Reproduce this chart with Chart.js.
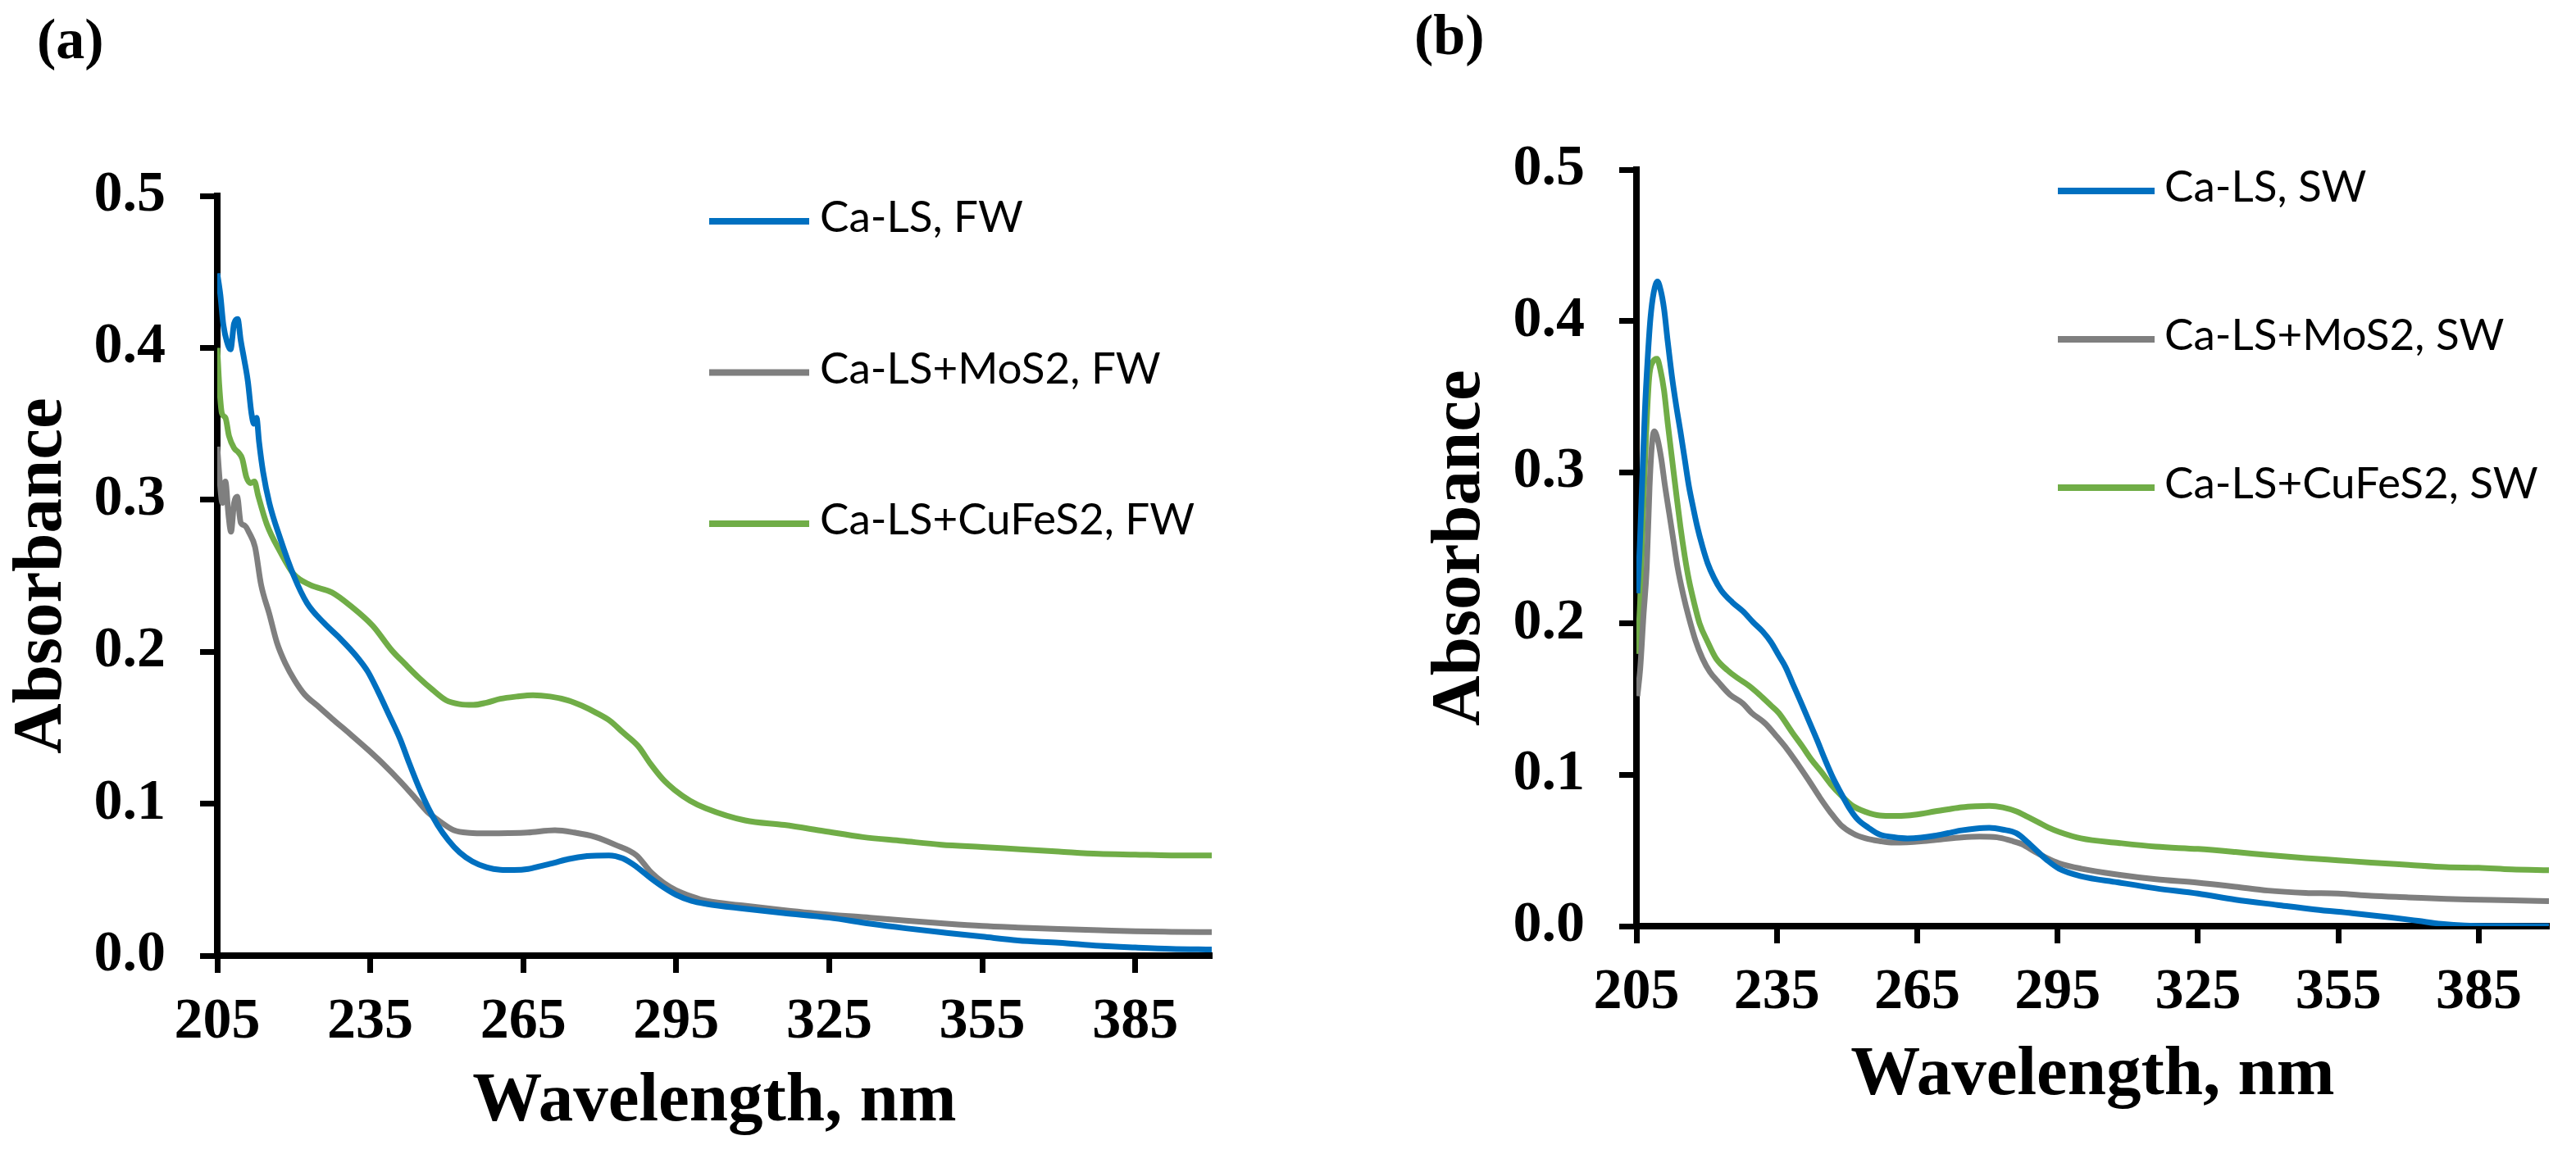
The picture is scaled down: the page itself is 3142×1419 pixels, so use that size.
<!DOCTYPE html>
<html>
<head>
<meta charset="utf-8">
<title>UV-Vis absorbance, FW / SW</title>
<script src="https://cdn.jsdelivr.net/npm/chart.js@4.4.1/dist/chart.umd.min.js"></script>
<style>
  html, body { margin: 0; padding: 0; background: #fff; }
  body { width: 3142px; height: 1419px; position: relative; overflow: hidden; }
  canvas { position: absolute; top: 0; }
  #chartFW { left: 0; }
  #chartSW { left: 1571px; }
  .panel-tag { position: absolute; font: bold 70px "Liberation Serif", "Times New Roman", serif; line-height: 1; color: #000; }
</style>
</head>
<body>
<canvas id="chartFW" width="1571" height="1419"></canvas>
<canvas id="chartSW" width="1571" height="1419"></canvas>
<div class="panel-tag" style="left:45px;top:13px">(a)</div>
<div class="panel-tag" style="left:1725px;top:8px">(b)</div>
<script>
// Axis ticks shared by both panels
var xTicks = [205, 235, 265, 295, 325, 355, 385];
var yTicks = [0, 0.1, 0.2, 0.3, 0.4, 0.5];

// Panel (a) - FW
var fwLabels = ["Ca-LS, FW", "Ca-LS+MoS2, FW", "Ca-LS+CuFeS2, FW"];

var fwLsNm = [205, 205.6, 206.2, 206.9, 207.6, 208.3, 209.0, 209.6, 210.3, 211.0, 211.7, 212.2, 212.7, 213.2, 214.0, 215.2, 217.3, 220.0, 222.6, 225.9, 229.0, 232.3, 234.5, 236.5, 238.6, 240.8, 242.6, 244.5, 246.4, 248.2, 250.3, 252.5, 255.0, 257.9, 260.5, 263.2, 266.0, 268.5, 271.0, 273.8, 277.5, 281.8, 284.5, 287.2, 290.0, 292.5, 295.0, 298.0, 301.0, 308.0, 316.0, 325.0, 333.0, 340.0, 348.0, 355.0, 362.0, 370.0, 378.0, 385.0, 392.0, 400.0];
var fwLsAbs = [0.449, 0.435, 0.415, 0.404, 0.399, 0.416, 0.419, 0.405, 0.392, 0.378, 0.357, 0.350, 0.354, 0.338, 0.318, 0.298, 0.275, 0.250, 0.232, 0.219, 0.209, 0.197, 0.187, 0.174, 0.159, 0.143, 0.127, 0.111, 0.097, 0.086, 0.076, 0.068, 0.062, 0.058, 0.0565, 0.0563, 0.057, 0.059, 0.061, 0.0635, 0.0655, 0.066, 0.064, 0.0585, 0.051, 0.045, 0.040, 0.036, 0.034, 0.031, 0.028, 0.025, 0.021, 0.018, 0.015, 0.0125, 0.010, 0.0085, 0.0065, 0.0054, 0.0045, 0.004];

var fwMoNm = [205, 205.5, 206.0, 206.6, 207.2, 207.7, 208.3, 208.9, 209.6, 210.4, 211.3, 212.4, 213.6, 215.2, 216.7, 218.4, 220.2, 222.1, 224.8, 227.5, 231.0, 234.4, 237.6, 240.8, 243.5, 246.1, 248.8, 251.4, 254.5, 257.9, 262.0, 265.9, 271.2, 275.0, 279.2, 283.0, 287.2, 290.0, 292.5, 295.0, 298.0, 301.0, 308.0, 316.0, 325.0, 333.0, 340.0, 348.0, 355.0, 362.0, 370.0, 378.0, 385.0, 392.0, 400.0];
var fwMoAbs = [0.335, 0.312, 0.298, 0.312, 0.290, 0.279, 0.298, 0.302, 0.285, 0.283, 0.278, 0.269, 0.244, 0.225, 0.206, 0.192, 0.181, 0.172, 0.164, 0.156, 0.146, 0.136, 0.126, 0.115, 0.105, 0.095, 0.088, 0.0825, 0.0808, 0.0805, 0.0806, 0.081, 0.0825, 0.081, 0.078, 0.073, 0.066, 0.055, 0.048, 0.043, 0.039, 0.036, 0.033, 0.030, 0.027, 0.025, 0.023, 0.021, 0.0195, 0.0185, 0.0175, 0.0167, 0.016, 0.0157, 0.0155];

var fwCuNm = [205, 205.4, 205.9, 206.6, 207.3, 208.3, 209.2, 209.9, 210.7, 211.5, 212.3, 213.0, 214.7, 217.3, 220.0, 223.2, 227.5, 231.2, 235.5, 239.2, 241.8, 244.5, 247.2, 249.9, 252.5, 255.2, 257.8, 260.5, 263.7, 266.9, 270.3, 273.8, 276.5, 279.2, 282.0, 284.5, 287.5, 290.0, 292.4, 294.7, 297.7, 300.8, 308.5, 316.2, 323.9, 331.6, 339.3, 347.0, 355.0, 362.4, 370.0, 377.8, 385.0, 392.0, 400.0];
var fwCuAbs = [0.400, 0.375, 0.357, 0.354, 0.342, 0.334, 0.331, 0.327, 0.315, 0.311, 0.312, 0.303, 0.284, 0.266, 0.251, 0.244, 0.239, 0.230, 0.217, 0.201, 0.192, 0.183, 0.175, 0.168, 0.1655, 0.165, 0.1665, 0.169, 0.1705, 0.1714, 0.1705, 0.168, 0.1645, 0.160, 0.1545, 0.147, 0.138, 0.126, 0.116, 0.109, 0.102, 0.097, 0.089, 0.086, 0.082, 0.078, 0.0755, 0.073, 0.0715, 0.070, 0.0685, 0.067, 0.0665, 0.066, 0.066];

// Panel (b) - SW
var swLabels = ["Ca-LS, SW", "Ca-LS+MoS2, SW", "Ca-LS+CuFeS2, SW"];

var swLsNm = [205.2, 205.7, 206.3, 206.8, 207.4, 208.0, 208.7, 209.5, 210.2, 210.9, 211.7, 212.6, 213.5, 214.4, 215.3, 216.2, 217.1, 218.0, 219.1, 220.2, 221.6, 223.1, 225.5, 227.8, 229.9, 231.9, 233.7, 235.4, 236.9, 238.3, 240.0, 241.8, 243.6, 245.3, 247.0, 248.7, 250.5, 252.3, 254.6, 257.0, 260.0, 262.9, 265.8, 268.7, 271.6, 274.5, 277.5, 280.4, 283.3, 286.2, 288.6, 290.9, 293.0, 295.3, 300.0, 307.8, 316.0, 325.0, 333.0, 342.0, 350.0, 358.0, 366.0, 372.0, 377.0, 382.0, 390.0, 400.0];
var swLsAbs = [0.220, 0.250, 0.300, 0.340, 0.375, 0.402, 0.419, 0.426, 0.420, 0.408, 0.386, 0.363, 0.344, 0.327, 0.309, 0.291, 0.277, 0.264, 0.251, 0.240, 0.230, 0.222, 0.214, 0.208, 0.201, 0.195, 0.188, 0.179, 0.171, 0.161, 0.149, 0.136, 0.123, 0.110, 0.098, 0.088, 0.078, 0.0705, 0.065, 0.0605, 0.0588, 0.058, 0.0585, 0.0597, 0.0615, 0.0633, 0.0645, 0.065, 0.0638, 0.0614, 0.0555, 0.0488, 0.043, 0.038, 0.033, 0.029, 0.025, 0.0215, 0.0175, 0.014, 0.011, 0.0085, 0.0058, 0.0035, 0.0015, 0.0004, 0.0001, 0.0];

var swMoNm = [205.2, 205.8, 206.5, 207.2, 207.8, 208.3, 208.8, 209.5, 210.3, 211.1, 212.0, 212.9, 213.8, 215.0, 216.2, 217.6, 219.1, 220.7, 222.6, 225.0, 227.8, 229.6, 232.5, 234.8, 237.2, 239.5, 241.9, 244.2, 246.5, 248.7, 251.3, 254.0, 257.0, 259.9, 262.8, 265.8, 270.0, 274.5, 278.3, 282.1, 285.0, 287.4, 290.0, 292.7, 295.3, 300.0, 308.0, 316.0, 325.0, 333.0, 340.0, 348.0, 355.0, 362.0, 370.0, 378.0, 385.0, 392.0, 400.0];
var swMoAbs = [0.152, 0.170, 0.205, 0.237, 0.290, 0.318, 0.327, 0.322, 0.309, 0.291, 0.273, 0.255, 0.237, 0.219, 0.204, 0.189, 0.177, 0.168, 0.161, 0.153, 0.147, 0.141, 0.134, 0.126, 0.117, 0.107, 0.096, 0.085, 0.075, 0.0668, 0.0612, 0.058, 0.0562, 0.0552, 0.0554, 0.056, 0.0573, 0.0587, 0.0592, 0.0587, 0.0565, 0.0542, 0.0495, 0.045, 0.0416, 0.038, 0.034, 0.031, 0.0287, 0.026, 0.0235, 0.022, 0.0215, 0.020, 0.019, 0.018, 0.0175, 0.017, 0.0165];

var swCuNm = [205.2, 205.8, 206.4, 207.0, 207.7, 208.5, 209.4, 210.1, 210.9, 211.7, 212.6, 213.5, 214.4, 215.3, 216.2, 217.3, 218.5, 220.2, 222.0, 224.5, 226.6, 229.0, 231.3, 233.7, 235.4, 238.3, 240.4, 242.4, 244.5, 246.5, 248.8, 251.2, 254.0, 257.0, 260.0, 262.9, 265.8, 268.7, 271.6, 274.5, 277.5, 280.4, 283.3, 286.2, 288.6, 290.9, 293.0, 295.3, 300.0, 308.0, 316.0, 325.0, 333.0, 340.0, 348.0, 355.0, 362.0, 370.0, 378.0, 385.0, 392.0, 400.0];
var swCuAbs = [0.180, 0.215, 0.270, 0.320, 0.362, 0.373, 0.375, 0.368, 0.354, 0.332, 0.309, 0.286, 0.264, 0.245, 0.229, 0.214, 0.200, 0.188, 0.177, 0.169, 0.164, 0.159, 0.153, 0.146, 0.141, 0.128, 0.119, 0.110, 0.102, 0.0939, 0.0862, 0.0795, 0.0755, 0.0731, 0.0728, 0.0731, 0.0742, 0.0758, 0.0772, 0.0785, 0.0792, 0.0795, 0.0785, 0.0758, 0.0722, 0.0686, 0.0652, 0.0623, 0.058, 0.055, 0.0525, 0.051, 0.049, 0.047, 0.045, 0.0435, 0.042, 0.0405, 0.039, 0.0386, 0.0375, 0.037];

var seriesColors = ["#0070C0", "#7F7F7F", "#70AD47"];

var serif = "'Liberation Serif', 'Times New Roman', serif";
var tickFont = { family: serif, size: 70, weight: "bold" };
var titleFont = { family: serif, size: 85, weight: "bold" };

function toPoints(nm, abs) {
  return nm.map(function (w, i) { return { x: w, y: abs[i] }; });
}

// Legend drawn inside the plot: a line sample followed by the label
var inlineLegend = {
  id: "inlineLegend",
  afterDraw: function (chart, args, opts) {
    var ctx = chart.ctx;
    ctx.save();
    ctx.font = opts.font;
    ctx.textBaseline = "middle";
    ctx.textAlign = "left";
    chart.data.datasets.forEach(function (ds, i) {
      var y = opts.y + i * opts.rowGap;
      ctx.strokeStyle = ds.borderColor;
      ctx.lineWidth = opts.lineWidth;
      ctx.beginPath();
      ctx.moveTo(opts.x, y);
      ctx.lineTo(opts.x + opts.lineLength, y);
      ctx.stroke();
      ctx.fillStyle = "#000";
      ctx.fillText(ds.label, opts.x + opts.lineLength + opts.textGap, y + opts.textDy);
    });
    ctx.restore();
  }
};

function axisGrid() {
  return { drawOnChartArea: false, drawTicks: true, tickLength: 21, tickWidth: 7, tickColor: "#000", color: "#000" };
}

function spectrumChart(selector, nmList, absList, labels, box) {
  var ctx = document.getElementById(selector);
  return new Chart(ctx, {
    type: "line",
    data: {
      datasets: labels.map(function (label, i) {
        return {
          label: label,
          data: toPoints(nmList[i], absList[i]),
          borderColor: seriesColors[i],
          backgroundColor: seriesColors[i],
          borderWidth: 7,
          pointRadius: 0,
          cubicInterpolationMode: "monotone",
          fill: false
        };
      })
    },
    options: {
      responsive: false,
      animation: false,
      devicePixelRatio: 1,
      layout: { padding: box.padding },
      plugins: {
        legend: { display: false },
        tooltip: { enabled: false },
        inlineLegend: box.legend
      },
      scales: {
        x: {
          type: "linear",
          min: 205,
          max: 400,
          afterBuildTicks: function (scale) {
            scale.ticks = xTicks.map(function (v) { return { value: v }; });
          },
          afterFit: function (scale) { scale.height = box.xHeight; },
          ticks: { font: tickFont, color: "#000", padding: 19, maxRotation: 0, autoSkip: false,
                   callback: function (v) { return String(v); } },
          grid: axisGrid(),
          border: { display: true, color: "#000", width: 8 },
          title: { display: true, text: "Wavelength, nm", font: titleFont, color: "#000", padding: 0 }
        },
        y: {
          type: "linear",
          min: 0,
          max: 0.5,
          afterBuildTicks: function (scale) {
            scale.ticks = yTicks.map(function (v) { return { value: v }; });
          },
          afterFit: function (scale) { scale.width = box.yWidth; },
          ticks: { font: tickFont, color: "#000", padding: 42, autoSkip: false,
                   callback: function (v) { return v.toFixed(1); } },
          grid: axisGrid(),
          border: { display: true, color: "#000", width: 8 },
          title: { display: true, text: "Absorbance", font: titleFont, color: "#000", padding: 0 }
        }
      }
    },
    plugins: [inlineLegend]
  });
}

var legendFont = "53px Lato, 'Liberation Sans', Arial, sans-serif";

spectrumChart("chartFW", [fwLsNm, fwMoNm, fwCuNm], [fwLsAbs, fwMoAbs, fwCuAbs], fwLabels, {
  padding: { left: 1, top: 239, right: 93, bottom: 23 },
  yWidth: 264,
  xHeight: 230,
  legend: { x: 865, y: 270, rowGap: 184.5, lineLength: 122, textGap: 13, textDy: -4, lineWidth: 8, font: legendFont }
});

spectrumChart("chartSW", [swLsNm, swMoNm, swCuNm], [swLsAbs, swMoAbs, swCuAbs], swLabels, {
  padding: { left: 160, top: 207, right: 33, bottom: 55 },
  yWidth: 265,
  xHeight: 234,
  legend: { x: 939, y: 233, rowGap: 181, lineLength: 118, textGap: 12, textDy: -4, lineWidth: 8, font: legendFont }
});
</script>
</body>
</html>
